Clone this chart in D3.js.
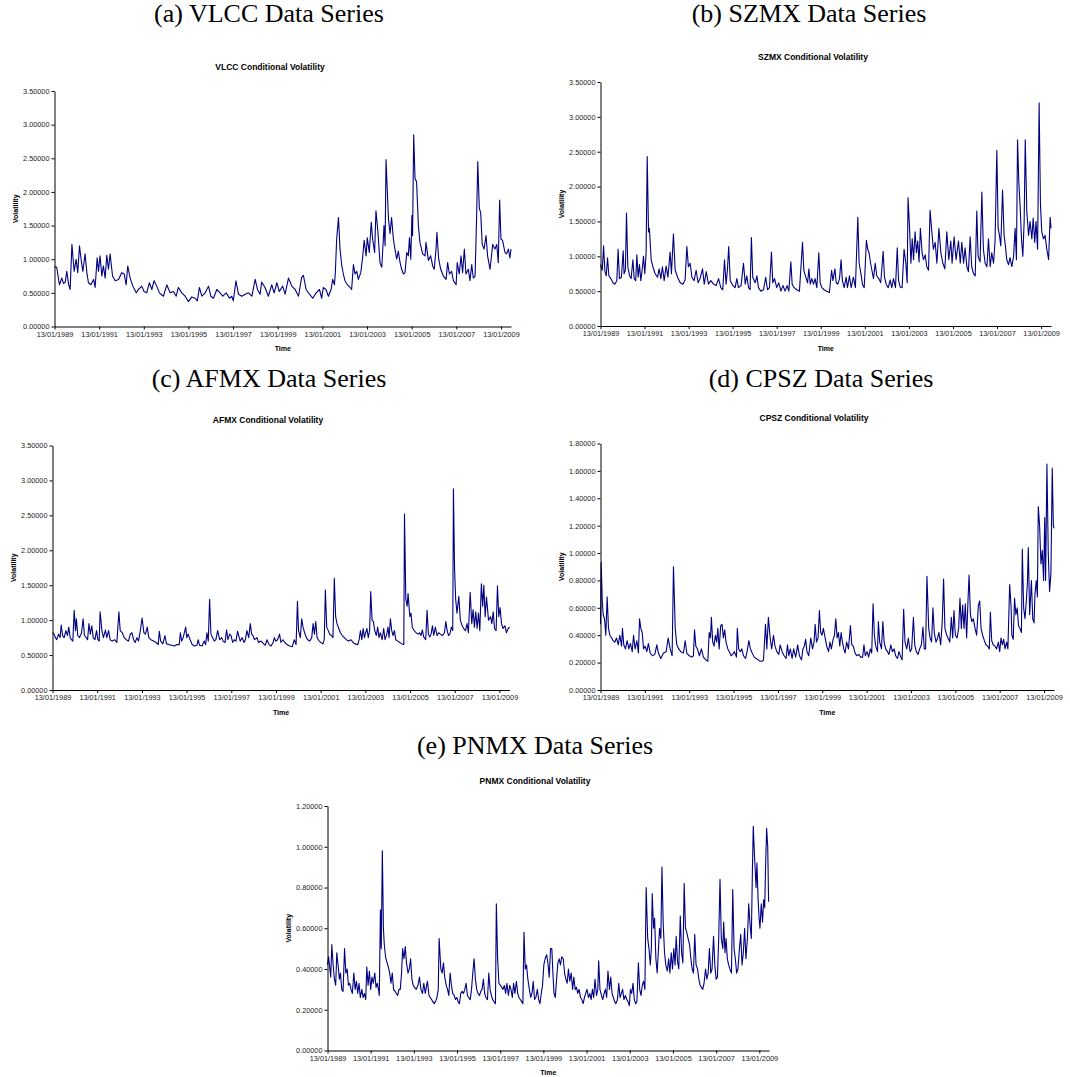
<!DOCTYPE html>
<html>
<head>
<meta charset="utf-8">
<script src="https://cdn.jsdelivr.net/npm/d3@7"></script>
<style>
  body { margin: 0; background: #fff; }
  svg text { font-family: "Liberation Sans", Arial, sans-serif; }
</style>
</head>
<body>
<div id="chart"></div>
<script>
// weekly volatility series: [years since 13/01/1989, value]
const vlcc = [[0,0.89],[0.10,0.88],[0.22,0.62],[0.33,0.72],[0.40,0.64],[0.48,0.66],[0.55,0.82],[0.63,0.63],[0.70,0.55],[0.78,1.22],[0.88,0.82],[0.97,1.00],[1.04,0.80],[1.12,1.20],[1.19,1.00],[1.27,0.82],[1.37,1.08],[1.45,0.80],[1.52,0.65],[1.63,0.62],[1.75,0.70],[1.82,0.58],[1.91,1.02],[1.97,0.82],[2.04,1.05],[2.12,0.75],[2.19,0.90],[2.27,0.72],[2.34,1.06],[2.42,0.85],[2.49,1.08],[2.60,0.75],[2.72,0.68],[2.87,0.70],[3.01,0.80],[3.12,0.78],[3.21,0.62],[3.28,0.90],[3.39,0.72],[3.51,0.60],[3.66,0.50],[3.76,0.55],[3.91,0.60],[4.01,0.52],[4.13,0.50],[4.25,0.65],[4.36,0.55],[4.46,0.68],[4.58,0.60],[4.70,0.50],[4.88,0.45],[5.03,0.62],[5.18,0.50],[5.33,0.52],[5.45,0.45],[5.55,0.58],[5.70,0.50],[5.85,0.45],[6.00,0.37],[6.15,0.44],[6.30,0.42],[6.40,0.38],[6.49,0.58],[6.60,0.45],[6.75,0.50],[6.90,0.60],[7.00,0.45],[7.12,0.42],[7.27,0.55],[7.42,0.50],[7.54,0.45],[7.69,0.50],[7.84,0.42],[7.94,0.45],[8.01,0.38],[8.13,0.68],[8.24,0.48],[8.39,0.45],[8.54,0.48],[8.69,0.50],[8.84,0.45],[8.99,0.70],[9.09,0.55],[9.21,0.48],[9.28,0.66],[9.43,0.58],[9.58,0.45],[9.73,0.62],[9.84,0.50],[9.96,0.65],[10.07,0.52],[10.22,0.60],[10.33,0.48],[10.48,0.72],[10.63,0.60],[10.78,0.55],[10.93,0.45],[11.07,0.73],[11.15,0.76],[11.27,0.55],[11.42,0.48],[11.57,0.42],[11.72,0.50],[11.87,0.55],[11.97,0.42],[12.04,0.58],[12.16,0.55],[12.27,0.45],[12.39,0.55],[12.46,0.70],[12.54,0.62],[12.58,0.80],[12.64,1.30],[12.72,1.62],[12.79,1.15],[12.87,0.90],[12.94,0.78],[13.01,0.68],[13.12,0.62],[13.24,0.58],[13.31,0.55],[13.39,0.92],[13.46,0.78],[13.54,0.82],[13.61,0.70],[13.72,0.80],[13.81,1.05],[13.87,1.28],[13.96,1.05],[14.01,1.32],[14.10,1.10],[14.19,1.55],[14.25,1.30],[14.34,1.10],[14.40,1.72],[14.49,1.40],[14.58,0.95],[14.66,0.88],[14.73,1.30],[14.76,1.50],[14.81,1.20],[14.85,2.48],[14.96,1.60],[15.03,1.38],[15.10,1.62],[15.18,1.30],[15.25,1.15],[15.33,1.00],[15.40,1.12],[15.48,0.95],[15.55,0.85],[15.63,0.78],[15.70,0.80],[15.78,1.10],[15.85,1.05],[15.90,1.32],[15.96,1.00],[16.01,1.65],[16.04,1.35],[16.09,2.85],[16.15,2.20],[16.22,2.15],[16.30,1.50],[16.37,1.25],[16.49,1.08],[16.60,1.05],[16.64,1.25],[16.75,0.98],[16.85,1.05],[16.94,0.90],[17.01,0.85],[17.09,1.15],[17.13,1.40],[17.21,1.00],[17.30,0.85],[17.42,0.75],[17.54,0.70],[17.61,0.95],[17.69,0.78],[17.79,0.82],[17.87,0.68],[17.99,0.62],[18.04,0.95],[18.13,0.78],[18.21,1.05],[18.28,0.80],[18.36,1.15],[18.43,0.78],[18.54,0.85],[18.61,0.68],[18.69,0.92],[18.76,0.72],[18.84,0.75],[18.91,1.65],[18.96,2.45],[19.03,1.75],[19.09,1.70],[19.16,1.22],[19.24,1.15],[19.33,1.35],[19.40,1.05],[19.51,0.85],[19.63,1.22],[19.73,1.15],[19.81,1.22],[19.88,0.95],[19.94,1.88],[20.00,1.30],[20.07,1.28],[20.18,1.10],[20.25,1.08],[20.33,1.15],[20.40,1.02],[20.45,1.15]];

const szmx = [[0,0.88],[0.08,0.80],[0.14,1.15],[0.20,0.78],[0.26,0.72],[0.32,0.98],[0.38,0.72],[0.47,0.68],[0.56,0.62],[0.65,0.60],[0.74,0.65],[0.80,1.10],[0.86,0.68],[0.95,0.70],[1.03,1.08],[1.07,0.75],[1.13,0.80],[1.18,1.62],[1.24,0.85],[1.32,0.72],[1.39,0.68],[1.47,0.95],[1.53,0.68],[1.60,0.65],[1.65,1.02],[1.71,0.70],[1.77,0.88],[1.83,0.65],[1.89,0.80],[1.95,1.00],[2.01,0.75],[2.07,1.05],[2.12,2.43],[2.18,1.35],[2.22,1.40],[2.30,0.95],[2.38,0.85],[2.48,0.75],[2.59,0.70],[2.66,0.82],[2.74,0.68],[2.81,0.85],[2.89,0.65],[2.98,0.86],[3.06,0.70],[3.16,1.06],[3.22,0.75],[3.31,1.32],[3.39,0.80],[3.50,0.70],[3.62,0.62],[3.74,0.60],[3.84,0.66],[3.92,1.14],[3.99,0.85],[4.07,0.90],[4.15,0.70],[4.25,0.65],[4.34,0.80],[4.43,0.62],[4.52,0.68],[4.63,0.82],[4.71,0.60],[4.80,0.78],[4.90,0.60],[5.01,0.65],[5.13,0.60],[5.25,0.58],[5.36,0.68],[5.46,0.55],[5.55,0.52],[5.63,0.95],[5.70,0.60],[5.76,0.80],[5.82,1.14],[5.89,0.65],[6.01,0.58],[6.11,0.55],[6.19,0.68],[6.26,0.55],[6.38,0.58],[6.49,0.90],[6.57,0.60],[6.64,0.72],[6.72,0.55],[6.79,0.52],[6.85,1.27],[6.91,0.70],[7.02,0.62],[7.10,0.72],[7.17,0.55],[7.28,0.50],[7.40,0.52],[7.50,0.70],[7.58,0.52],[7.67,0.55],[7.76,1.06],[7.82,0.62],[7.90,0.68],[8.00,0.55],[8.09,0.62],[8.19,0.50],[8.28,0.58],[8.38,0.50],[8.47,0.58],[8.55,0.50],[8.64,0.92],[8.70,0.60],[8.79,0.55],[8.91,0.52],[9.03,0.50],[9.17,1.20],[9.23,0.80],[9.30,0.72],[9.40,0.62],[9.46,0.82],[9.52,0.60],[9.59,0.68],[9.67,0.60],[9.74,0.68],[9.82,0.55],[9.91,1.05],[9.97,0.62],[10.05,0.55],[10.15,0.52],[10.27,0.50],[10.39,0.48],[10.49,0.80],[10.55,0.65],[10.64,0.82],[10.70,0.62],[10.77,0.60],[10.85,0.68],[10.92,0.95],[10.98,0.65],[11.06,0.55],[11.15,0.70],[11.21,0.55],[11.30,0.72],[11.38,0.55],[11.48,0.70],[11.57,0.55],[11.68,1.56],[11.74,0.90],[11.82,0.75],[11.89,0.60],[11.97,0.55],[12.07,1.23],[12.13,1.10],[12.19,1.05],[12.26,0.90],[12.32,0.80],[12.39,0.68],[12.47,0.90],[12.54,0.72],[12.63,0.68],[12.72,0.62],[12.83,1.07],[12.89,0.70],[12.97,0.60],[13.06,0.55],[13.15,0.66],[13.22,0.55],[13.30,0.68],[13.39,0.55],[13.47,1.12],[13.53,0.65],[13.60,0.56],[13.69,0.55],[13.78,1.10],[13.86,0.90],[13.92,0.62],[13.96,1.84],[14.03,1.40],[14.09,0.90],[14.15,1.25],[14.21,0.95],[14.28,1.35],[14.34,1.05],[14.40,1.22],[14.46,0.92],[14.52,1.40],[14.60,1.05],[14.66,0.95],[14.74,1.02],[14.81,0.85],[14.89,0.80],[14.96,1.66],[15.04,1.35],[15.11,1.10],[15.19,1.20],[15.27,0.90],[15.36,1.40],[15.45,1.05],[15.54,0.90],[15.63,0.82],[15.72,1.35],[15.81,0.95],[15.90,1.22],[15.96,0.90],[16.05,1.28],[16.14,0.95],[16.25,1.22],[16.33,0.90],[16.40,1.20],[16.48,0.90],[16.55,1.12],[16.63,0.85],[16.70,0.78],[16.78,1.28],[16.85,0.85],[16.93,0.75],[17.01,0.72],[17.08,1.65],[17.14,1.00],[17.23,0.92],[17.31,1.92],[17.38,1.10],[17.46,0.90],[17.54,0.85],[17.61,1.25],[17.69,0.85],[17.76,1.05],[17.84,0.90],[17.91,1.22],[17.99,2.52],[18.05,1.40],[18.11,1.30],[18.17,1.15],[18.25,1.95],[18.32,1.30],[18.38,1.15],[18.44,0.95],[18.52,0.88],[18.59,0.98],[18.67,0.85],[18.75,1.00],[18.82,1.40],[18.88,0.95],[18.93,2.67],[18.99,2.05],[19.05,1.70],[19.11,1.25],[19.17,1.00],[19.23,1.50],[19.28,2.67],[19.35,1.65],[19.43,1.30],[19.50,1.50],[19.58,1.25],[19.64,1.55],[19.71,1.20],[19.77,1.50],[19.84,1.10],[19.91,3.20],[19.97,1.75],[20.03,1.35],[20.11,1.25],[20.18,1.30],[20.26,1.10],[20.34,0.95],[20.41,1.56],[20.45,1.40]];

const afmx = [[0,0.82],[0.07,0.80],[0.13,0.75],[0.19,0.72],[0.27,0.80],[0.34,0.75],[0.39,0.93],[0.45,0.78],[0.52,0.75],[0.60,0.85],[0.67,0.78],[0.73,0.90],[0.79,0.75],[0.85,0.72],[0.91,0.70],[0.97,1.14],[1.03,0.85],[1.07,1.02],[1.13,0.78],[1.21,0.75],[1.30,0.82],[1.37,1.02],[1.43,0.78],[1.51,0.75],[1.57,0.72],[1.63,0.95],[1.69,0.80],[1.76,0.92],[1.82,0.75],[1.90,0.72],[1.97,0.85],[2.03,0.72],[2.09,0.70],[2.13,1.12],[2.21,0.85],[2.28,0.75],[2.37,0.86],[2.43,0.75],[2.51,0.85],[2.58,0.72],[2.67,0.70],[2.78,0.72],[2.88,0.68],[2.97,1.12],[3.03,0.85],[3.12,0.82],[3.21,0.75],[3.30,0.72],[3.40,0.70],[3.48,0.80],[3.55,0.82],[3.63,0.72],[3.70,0.68],[3.78,0.75],[3.85,0.70],[3.93,0.85],[4.01,1.03],[4.09,0.82],[4.16,0.80],[4.24,0.90],[4.31,0.75],[4.40,0.72],[4.52,0.70],[4.64,0.68],[4.73,0.65],[4.78,0.84],[4.84,0.70],[4.94,0.66],[5.03,0.78],[5.10,0.66],[5.21,0.65],[5.33,0.64],[5.45,0.63],[5.57,0.65],[5.67,0.65],[5.72,0.82],[5.78,0.70],[5.85,0.75],[5.90,0.82],[5.96,0.90],[6.01,0.75],[6.07,0.80],[6.16,0.72],[6.25,0.65],[6.36,0.63],[6.46,0.64],[6.52,0.72],[6.58,0.64],[6.69,0.63],[6.79,0.70],[6.85,0.65],[6.91,0.82],[6.97,0.70],[7.03,1.30],[7.09,0.80],[7.16,0.75],[7.24,0.70],[7.31,0.72],[7.39,0.85],[7.48,0.72],[7.57,0.75],[7.63,0.70],[7.72,0.68],[7.79,0.86],[7.85,0.72],[7.93,0.80],[7.99,0.78],[8.06,0.68],[8.13,0.72],[8.21,0.70],[8.28,0.84],[8.40,0.70],[8.49,0.75],[8.57,0.68],[8.63,0.72],[8.70,0.85],[8.78,0.75],[8.85,0.95],[8.91,0.80],[8.97,0.78],[9.04,0.72],[9.15,0.75],[9.22,0.68],[9.33,0.70],[9.45,0.66],[9.52,0.64],[9.60,0.72],[9.69,0.65],[9.78,0.63],[9.87,0.68],[9.93,0.75],[9.99,0.70],[10.07,0.72],[10.16,0.80],[10.22,0.68],[10.31,0.72],[10.40,0.68],[10.49,0.65],[10.61,0.63],[10.73,0.62],[10.82,0.72],[10.90,0.65],[10.96,1.27],[11.01,0.85],[11.09,0.75],[11.15,1.02],[11.21,0.90],[11.28,0.82],[11.36,0.75],[11.42,0.72],[11.51,0.70],[11.60,0.75],[11.66,0.95],[11.72,0.80],[11.78,0.98],[11.84,0.75],[11.93,0.70],[12.01,0.68],[12.10,0.66],[12.16,0.72],[12.21,1.43],[12.27,0.90],[12.34,0.85],[12.40,0.80],[12.48,0.78],[12.55,0.75],[12.61,1.60],[12.67,1.05],[12.73,0.95],[12.81,0.88],[12.88,0.82],[12.97,0.78],[13.06,0.75],[13.15,0.72],[13.25,0.70],[13.36,0.72],[13.45,0.68],[13.54,0.66],[13.66,0.65],[13.72,0.72],[13.78,0.85],[13.84,0.72],[13.90,0.88],[13.96,0.75],[14.01,0.82],[14.07,0.88],[14.13,0.75],[14.19,0.85],[14.24,1.41],[14.30,1.00],[14.36,0.98],[14.42,0.85],[14.49,0.78],[14.55,0.90],[14.61,0.75],[14.67,0.82],[14.75,0.72],[14.82,0.88],[14.88,0.72],[14.96,0.80],[15.01,0.90],[15.06,0.75],[15.12,1.02],[15.18,0.85],[15.24,0.78],[15.30,0.85],[15.36,0.72],[15.45,0.70],[15.54,0.68],[15.64,0.66],[15.72,0.65],[15.75,2.52],[15.81,1.30],[15.87,1.20],[15.91,1.38],[15.99,1.05],[16.04,1.10],[16.10,0.90],[16.18,0.85],[16.27,0.82],[16.36,0.80],[16.43,0.82],[16.49,0.78],[16.55,0.86],[16.61,0.76],[16.70,0.72],[16.76,1.14],[16.82,0.80],[16.88,0.76],[16.94,0.80],[17.00,0.92],[17.06,0.78],[17.13,0.90],[17.21,0.78],[17.28,0.82],[17.36,0.80],[17.45,0.78],[17.54,0.82],[17.60,0.98],[17.66,0.85],[17.72,0.78],[17.78,0.80],[17.85,0.90],[17.91,0.85],[17.94,2.88],[17.99,1.75],[18.04,1.30],[18.10,1.10],[18.18,1.34],[18.25,1.00],[18.33,0.92],[18.40,0.88],[18.48,0.85],[18.55,0.95],[18.61,0.82],[18.69,1.40],[18.76,0.95],[18.82,1.15],[18.88,0.90],[18.94,1.12],[19.00,0.88],[19.06,1.10],[19.12,0.85],[19.19,1.52],[19.25,1.20],[19.30,1.50],[19.36,1.05],[19.42,1.33],[19.51,1.00],[19.60,1.05],[19.66,0.95],[19.72,1.12],[19.78,0.88],[19.85,0.85],[19.91,1.49],[19.97,1.05],[20.03,1.18],[20.09,0.95],[20.16,0.88],[20.24,0.92],[20.31,0.82],[20.39,0.88],[20.46,0.90]];

const cpsz = [[0,0.48],[0.03,0.93],[0.08,0.65],[0.12,0.55],[0.18,0.52],[0.24,0.40],[0.30,0.68],[0.36,0.45],[0.42,0.40],[0.50,0.38],[0.57,0.36],[0.65,0.35],[0.72,0.38],[0.80,0.33],[0.87,0.40],[0.95,0.32],[0.99,0.45],[1.05,0.33],[1.13,0.30],[1.20,0.36],[1.28,0.30],[1.35,0.34],[1.43,0.28],[1.49,0.40],[1.56,0.30],[1.64,0.36],[1.71,0.27],[1.76,0.52],[1.82,0.45],[1.88,0.42],[1.94,0.30],[2.01,0.32],[2.09,0.28],[2.16,0.34],[2.24,0.27],[2.34,0.25],[2.45,0.26],[2.54,0.33],[2.61,0.27],[2.72,0.23],[2.84,0.27],[2.96,0.28],[3.05,0.38],[3.14,0.30],[3.23,0.25],[3.29,0.90],[3.37,0.45],[3.44,0.33],[3.53,0.30],[3.62,0.28],[3.74,0.27],[3.82,0.36],[3.89,0.27],[4.00,0.25],[4.12,0.24],[4.19,0.25],[4.24,0.44],[4.30,0.32],[4.37,0.30],[4.46,0.25],[4.55,0.30],[4.64,0.24],[4.75,0.22],[4.84,0.21],[4.90,0.42],[4.96,0.38],[5.00,0.53],[5.06,0.35],[5.12,0.32],[5.18,0.40],[5.24,0.35],[5.29,0.45],[5.35,0.30],[5.42,0.47],[5.48,0.48],[5.54,0.38],[5.60,0.44],[5.66,0.35],[5.74,0.30],[5.81,0.28],[5.89,0.25],[5.96,0.26],[6.04,0.28],[6.13,0.24],[6.17,0.45],[6.23,0.30],[6.30,0.28],[6.37,0.30],[6.45,0.25],[6.54,0.23],[6.61,0.28],[6.69,0.36],[6.76,0.30],[6.84,0.27],[6.93,0.24],[7.02,0.23],[7.11,0.22],[7.20,0.21],[7.29,0.21],[7.35,0.22],[7.44,0.48],[7.50,0.30],[7.57,0.53],[7.65,0.38],[7.72,0.30],[7.80,0.40],[7.87,0.32],[7.95,0.28],[8.04,0.26],[8.10,0.33],[8.19,0.28],[8.28,0.25],[8.37,0.23],[8.43,0.33],[8.49,0.25],[8.56,0.30],[8.64,0.23],[8.71,0.30],[8.80,0.24],[8.89,0.33],[8.97,0.25],[9.06,0.22],[9.13,0.30],[9.19,0.32],[9.25,0.37],[9.31,0.28],[9.39,0.25],[9.48,0.38],[9.56,0.30],[9.63,0.35],[9.68,0.48],[9.74,0.35],[9.81,0.38],[9.87,0.58],[9.93,0.42],[9.99,0.40],[10.05,0.45],[10.13,0.38],[10.20,0.32],[10.28,0.28],[10.35,0.35],[10.41,0.30],[10.49,0.37],[10.55,0.40],[10.61,0.52],[10.67,0.38],[10.73,0.42],[10.79,0.32],[10.85,0.42],[10.91,0.35],[10.97,0.30],[11.03,0.27],[11.10,0.35],[11.18,0.30],[11.27,0.47],[11.33,0.33],[11.40,0.32],[11.48,0.27],[11.55,0.25],[11.64,0.26],[11.73,0.24],[11.82,0.24],[11.88,0.33],[11.94,0.25],[12.02,0.28],[12.09,0.24],[12.17,0.30],[12.23,0.27],[12.29,0.63],[12.35,0.40],[12.41,0.32],[12.49,0.28],[12.53,0.50],[12.59,0.35],[12.67,0.30],[12.73,0.50],[12.79,0.35],[12.86,0.30],[12.94,0.28],[13.01,0.26],[13.09,0.33],[13.16,0.28],[13.24,0.30],[13.31,0.25],[13.39,0.23],[13.46,0.28],[13.54,0.24],[13.60,0.22],[13.67,0.59],[13.73,0.35],[13.81,0.30],[13.88,0.38],[13.96,0.28],[14.03,0.30],[14.11,0.53],[14.17,0.33],[14.24,0.28],[14.32,0.26],[14.39,0.30],[14.47,0.33],[14.54,0.46],[14.60,0.30],[14.66,0.30],[14.72,0.83],[14.80,0.45],[14.86,0.38],[14.93,0.35],[14.99,0.60],[15.05,0.42],[15.13,0.35],[15.20,0.38],[15.26,0.42],[15.34,0.33],[15.41,0.50],[15.47,0.81],[15.53,0.45],[15.61,0.40],[15.67,0.38],[15.75,0.35],[15.82,0.53],[15.88,0.38],[15.94,0.58],[16.00,0.40],[16.08,0.38],[16.15,0.45],[16.21,0.67],[16.27,0.45],[16.33,0.62],[16.39,0.45],[16.45,0.63],[16.51,0.38],[16.57,0.65],[16.62,0.84],[16.68,0.55],[16.74,0.50],[16.81,0.52],[16.89,0.45],[16.96,0.40],[17.04,0.62],[17.10,0.65],[17.16,0.45],[17.23,0.40],[17.31,0.36],[17.38,0.33],[17.46,0.32],[17.53,0.30],[17.58,0.57],[17.64,0.36],[17.71,0.33],[17.79,0.32],[17.86,0.30],[17.94,0.35],[18.00,0.28],[18.06,0.38],[18.12,0.33],[18.18,0.37],[18.24,0.30],[18.31,0.35],[18.37,0.30],[18.45,0.77],[18.51,0.62],[18.55,0.40],[18.61,0.37],[18.67,0.67],[18.73,0.55],[18.79,0.60],[18.85,0.47],[18.91,0.45],[18.98,0.42],[19.02,1.03],[19.08,0.60],[19.14,0.52],[19.20,0.65],[19.25,0.78],[19.29,1.04],[19.35,0.55],[19.43,0.80],[19.49,0.52],[19.55,0.49],[19.59,0.70],[19.65,0.80],[19.70,0.68],[19.74,1.34],[19.80,1.20],[19.86,0.92],[19.92,1.02],[19.98,0.80],[20.03,1.26],[20.07,0.80],[20.13,1.65],[20.19,1.00],[20.25,0.72],[20.31,0.85],[20.37,1.62],[20.42,1.20],[20.45,1.18]];

const pnmx = [[0,0.42],[0.05,0.46],[0.11,0.40],[0.15,0.36],[0.20,0.52],[0.26,0.42],[0.32,0.35],[0.38,0.32],[0.43,0.48],[0.49,0.42],[0.55,0.35],[0.60,0.38],[0.66,0.30],[0.72,0.29],[0.79,0.50],[0.85,0.38],[0.91,0.40],[0.97,0.32],[1.03,0.33],[1.09,0.30],[1.15,0.28],[1.22,0.38],[1.28,0.30],[1.34,0.34],[1.40,0.28],[1.46,0.33],[1.52,0.26],[1.59,0.30],[1.65,0.26],[1.71,0.28],[1.77,0.25],[1.82,0.41],[1.88,0.32],[1.94,0.39],[2.00,0.30],[2.06,0.36],[2.12,0.33],[2.19,0.38],[2.25,0.31],[2.31,0.33],[2.36,0.30],[2.40,0.27],[2.45,0.69],[2.49,0.50],[2.54,0.98],[2.59,0.60],[2.63,0.52],[2.69,0.46],[2.76,0.43],[2.82,0.41],[2.88,0.38],[2.94,0.33],[3.00,0.38],[3.06,0.30],[3.13,0.29],[3.19,0.28],[3.25,0.27],[3.31,0.30],[3.37,0.30],[3.43,0.38],[3.48,0.50],[3.54,0.45],[3.60,0.51],[3.66,0.43],[3.73,0.38],[3.79,0.40],[3.85,0.45],[3.91,0.35],[3.97,0.32],[4.03,0.31],[4.11,0.30],[4.19,0.32],[4.26,0.36],[4.33,0.30],[4.40,0.28],[4.46,0.33],[4.53,0.28],[4.59,0.32],[4.63,0.34],[4.70,0.27],[4.76,0.26],[4.82,0.25],[4.88,0.24],[4.94,0.23],[5.00,0.24],[5.07,0.26],[5.13,0.30],[5.17,0.55],[5.25,0.40],[5.31,0.38],[5.37,0.43],[5.43,0.36],[5.50,0.32],[5.56,0.30],[5.62,0.27],[5.68,0.38],[5.74,0.32],[5.80,0.28],[5.87,0.27],[5.93,0.25],[5.99,0.26],[6.05,0.24],[6.11,0.23],[6.17,0.28],[6.24,0.29],[6.30,0.28],[6.36,0.30],[6.42,0.33],[6.48,0.27],[6.54,0.26],[6.61,0.25],[6.67,0.30],[6.73,0.38],[6.79,0.45],[6.85,0.35],[6.91,0.30],[6.97,0.28],[7.04,0.27],[7.10,0.29],[7.16,0.30],[7.22,0.35],[7.28,0.28],[7.34,0.26],[7.41,0.25],[7.47,0.38],[7.53,0.30],[7.59,0.27],[7.65,0.25],[7.71,0.24],[7.78,0.23],[7.82,0.72],[7.88,0.45],[7.94,0.33],[8.01,0.32],[8.07,0.31],[8.13,0.30],[8.19,0.32],[8.25,0.28],[8.31,0.33],[8.38,0.27],[8.44,0.32],[8.50,0.30],[8.56,0.26],[8.62,0.33],[8.68,0.28],[8.75,0.34],[8.81,0.28],[8.87,0.26],[8.93,0.25],[8.99,0.24],[9.05,0.23],[9.10,0.58],[9.16,0.40],[9.22,0.42],[9.28,0.35],[9.35,0.30],[9.41,0.26],[9.47,0.28],[9.53,0.34],[9.59,0.25],[9.65,0.26],[9.72,0.30],[9.78,0.25],[9.84,0.23],[9.90,0.28],[9.96,0.32],[10.02,0.42],[10.08,0.45],[10.15,0.47],[10.21,0.43],[10.27,0.36],[10.33,0.50],[10.39,0.50],[10.44,0.38],[10.49,0.28],[10.55,0.26],[10.61,0.35],[10.67,0.43],[10.73,0.45],[10.79,0.42],[10.85,0.46],[10.92,0.45],[10.98,0.38],[11.04,0.35],[11.10,0.33],[11.16,0.40],[11.22,0.34],[11.29,0.38],[11.35,0.30],[11.41,0.36],[11.47,0.30],[11.53,0.31],[11.59,0.28],[11.65,0.30],[11.72,0.26],[11.78,0.25],[11.84,0.23],[11.90,0.26],[11.96,0.28],[12.02,0.30],[12.09,0.26],[12.15,0.28],[12.21,0.25],[12.27,0.30],[12.33,0.26],[12.39,0.35],[12.46,0.27],[12.52,0.30],[12.56,0.44],[12.62,0.30],[12.69,0.27],[12.75,0.25],[12.81,0.28],[12.87,0.30],[12.93,0.26],[12.99,0.39],[13.06,0.30],[13.12,0.36],[13.18,0.28],[13.24,0.26],[13.30,0.24],[13.36,0.23],[13.43,0.25],[13.49,0.33],[13.55,0.26],[13.61,0.28],[13.67,0.30],[13.73,0.25],[13.80,0.27],[13.86,0.25],[13.92,0.24],[13.98,0.22],[14.03,0.30],[14.09,0.28],[14.15,0.33],[14.21,0.25],[14.27,0.23],[14.33,0.24],[14.40,0.43],[14.46,0.30],[14.52,0.27],[14.58,0.32],[14.64,0.34],[14.70,0.30],[14.76,0.80],[14.83,0.55],[14.89,0.50],[14.95,0.42],[15.00,0.50],[15.04,0.77],[15.10,0.60],[15.15,0.65],[15.21,0.45],[15.27,0.38],[15.33,0.50],[15.38,0.60],[15.44,0.55],[15.49,0.90],[15.55,0.62],[15.61,0.48],[15.67,0.42],[15.74,0.39],[15.80,0.45],[15.86,0.38],[15.92,0.48],[15.98,0.40],[16.04,0.50],[16.10,0.42],[16.15,0.56],[16.21,0.44],[16.27,0.40],[16.34,0.66],[16.40,0.48],[16.46,0.43],[16.52,0.82],[16.58,0.60],[16.64,0.58],[16.70,0.55],[16.77,0.52],[16.83,0.45],[16.89,0.40],[16.95,0.38],[17.01,0.57],[17.07,0.42],[17.14,0.40],[17.20,0.35],[17.26,0.32],[17.32,0.31],[17.38,0.30],[17.44,0.33],[17.51,0.40],[17.57,0.35],[17.63,0.38],[17.69,0.50],[17.75,0.38],[17.81,0.40],[17.88,0.56],[17.94,0.42],[18.00,0.35],[18.06,0.36],[18.12,0.55],[18.18,0.84],[18.24,0.55],[18.31,0.50],[18.35,0.63],[18.41,0.48],[18.46,0.55],[18.52,0.45],[18.58,0.42],[18.64,0.40],[18.71,0.38],[18.77,0.79],[18.83,0.50],[18.89,0.45],[18.95,0.38],[19.01,0.40],[19.08,0.50],[19.14,0.57],[19.20,0.42],[19.26,0.48],[19.32,0.60],[19.38,0.45],[19.45,0.55],[19.51,0.72],[19.57,0.62],[19.63,0.55],[19.68,0.88],[19.72,1.10],[19.78,0.95],[19.85,0.80],[19.89,0.92],[19.94,0.75],[19.99,0.65],[20.03,0.60],[20.09,0.72],[20.15,0.63],[20.20,0.74],[20.25,0.70],[20.29,0.90],[20.34,1.09],[20.39,1.00],[20.43,0.73]];

const tickYears = [1989, 1991, 1993, 1995, 1997, 1999, 2001, 2003, 2005, 2007, 2009];
const yTicksWide = [0, 0.5, 1, 1.5, 2, 2.5, 3, 3.5];
const yTicksCpsz = [0, 0.2, 0.4, 0.6, 0.8, 1.0, 1.2, 1.4, 1.6, 1.8];
const yTicksPnmx = [0, 0.2, 0.4, 0.6, 0.8, 1.0, 1.2];
const headings = ["(a) VLCC Data Series", "(b) SZMX Data Series", "(c) AFMX Data Series", "(d) CPSZ Data Series", "(e) PNMX Data Series"];
const titles = ["VLCC Conditional Volatility", "SZMX Conditional Volatility", "AFMX Conditional Volatility", "CPSZ Conditional Volatility", "PNMX Conditional Volatility"];

const startDate = new Date(1989, 0, 13);
const endDate = new Date(2009, 5, 26);
const toDate = t => new Date(startDate.getTime() + t * 365.25 * 864e5);

// page layout of the five panels
const panels = [
  { data: vlcc, ticks: yTicksWide, hx: 269, hy: 22, left: 54.5, right: 511, top: 91, bottom: 326.5, tx: 270, ty: 70 },
  { data: szmx, ticks: yTicksWide, hx: 809, hy: 22, left: 600.5, right: 1051, top: 82, bottom: 326, tx: 813, ty: 60 },
  { data: afmx, ticks: yTicksWide, hx: 269, hy: 387, left: 52.5, right: 509.5, top: 445.5, bottom: 690, tx: 268, ty: 423 },
  { data: cpsz, ticks: yTicksCpsz, hx: 821, hy: 387, left: 600.5, right: 1054, top: 443.5, bottom: 690, tx: 814, ty: 421 },
  { data: pnmx, ticks: yTicksPnmx, hx: 535, hy: 754, left: 327.5, right: 769, top: 806, bottom: 1050.5, tx: 535, ty: 784 }
];

const svg = d3.select("#chart")
  .append("svg")
  .attr("width", 1070)
  .attr("height", 1077);

const line = (x, y) => d3.line()
  .x(d => x(toDate(d[0])))
  .y(d => y(d[1]));

panels.forEach((p, i) => {
  // big serif heading
  svg.append("text")
    .attr("x", p.hx)
    .attr("y", p.hy)
    .attr("text-anchor", "middle")
    .style("font-family", "'Liberation Serif', 'Times New Roman', serif")
    .style("font-size", "26px")
    .text(headings[i]);

  svg.append("text")
    .attr("x", p.tx)
    .attr("y", p.ty)
    .attr("text-anchor", "middle")
    .style("font-size", "8.5px")
    .style("font-weight", "bold")
    .text(titles[i]);

  const x = d3.scaleTime().domain([startDate, endDate]).range([p.left, p.right]);
  const y = d3.scaleLinear().domain([0, d3.max(p.ticks)]).range([p.bottom, p.top]);

  const xAxis = d3.axisBottom(x)
    .tickValues(tickYears.map(yr => new Date(yr, 0, 13)))
    .tickFormat(d3.timeFormat("%d/%m/%Y"))
    .tickSize(3)
    .tickSizeOuter(0)
    .tickPadding(2);

  const yAxis = d3.axisLeft(y)
    .tickValues(p.ticks)
    .tickFormat(d3.format(".5f"))
    .tickSize(3)
    .tickSizeOuter(0)
    .tickPadding(2);

  svg.append("path")
    .datum(p.data)
    .attr("fill", "none")
    .attr("stroke", "#000080")
    .attr("stroke-width", 1.1)
    .attr("stroke-linejoin", "round")
    .attr("d", line(x, y));

  const gx = svg.append("g")
    .attr("transform", `translate(0,${p.bottom})`)
    .call(xAxis);
  const gy = svg.append("g")
    .attr("transform", `translate(${p.left},0)`)
    .call(yAxis);

  [gx, gy].forEach(g => {
    g.selectAll("text").style("font-size", "7.3px").style("font-family", "'Liberation Sans', Arial, sans-serif").attr("fill", "#222");
    g.selectAll("line,path").attr("stroke", "#000");
  });

  svg.append("text")
    .attr("x", (p.left + p.right) / 2)
    .attr("y", p.bottom + 24.5)
    .attr("text-anchor", "middle")
    .style("font-size", "7px")
    .style("font-weight", "bold")
    .text("Time");

  svg.append("text")
    .attr("transform", `translate(${p.left - 37},${(p.top + p.bottom) / 2}) rotate(-90)`)
    .attr("text-anchor", "middle")
    .style("font-size", "7px")
    .style("font-weight", "bold")
    .text("Volatility");
});
</script>
</body>
</html>
